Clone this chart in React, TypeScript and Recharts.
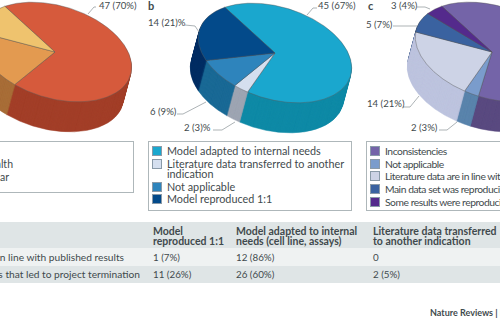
import React from 'react';
import { PieChart, Pie, Cell } from 'recharts';

// pie values, all three start at the same angle and run clockwise
const areaNames = ['Oncology', "Women's health", 'Cardiovascular'];
const areaValues = [47, 12, 8];
const areaTop = ['#D65A3C', '#E39A50', '#EFC36E'];
const areaSide = ['#A33F29', '#A86E38', '#B8924E'];

const modelNames = ['Model adapted to internal needs', 'Literature data transferred to another', 'Not applicable', 'Model reproduced 1:1'];
const modelValues = [45, 2, 6, 14];
const modelTop = ['#1AA7CE', '#D5DFEF', '#2E84BC', '#034A8A'];
const modelSide = ['#0F8AA6', '#9EA5B3', '#1A6A96', '#012E64'];

const resultNames = ['Inconsistencies', 'Not applicable', 'Literature data are in line with main data set', 'Main data set was reproducible', 'Some results were reproducible'];
const resultValues = [43, 2, 14, 5, 3];
const resultTop = ['#7464A8', '#7A9CCC', '#CDD3E6', '#3A62A0', '#542A8C'];
const resultSide = ['#5A4A80', '#5A84AC', '#BDC4DF', '#2A4A80', '#3E1E6C'];

const tableHead = [['Model', 'reproduced 1:1'], ['Model adapted to internal', 'needs (cell line, assays)'], ['Literature data transferred', 'to another indication']];
const rowNames = ['Data are in line with published results', 'Inconsistencies that led to project termination'];
const rowValues = [['1 (7%)', '12 (86%)', '0'], ['11 (26%)', '26 (60%)', '2 (5%)']];

const FONT = 'Lato, "Noto Sans", sans-serif';
const INK = '#3f4a4d';
const SIDE = 280;
const MID = SIDE / 2;
const DEPTH = 30;
const LAYERS = Array.from({ length: DEPTH }, (_, i) => DEPTH - i);
const COLS = [153, 236, 373];

function Pie3D({ x, y, values, top, side }: { x: number; y: number; values: number[]; top: string[]; side: string[] }) {
  const table = values.map((value, i) => ({ name: String(i), value }));
  return (
    <div style={{ position: 'absolute', left: x - MID, top: y - MID, width: SIDE, height: SIDE, transform: 'rotate(17deg) scaleY(0.585)', transformOrigin: '50% 50%' }}>
      <PieChart width={SIDE} height={SIDE} margin={{ top: 0, right: 0, bottom: 0, left: 0 }}>
        {LAYERS.map((d) => (
          <Pie
            key={d}
            data={table}
            dataKey="value"
            cx={MID + (d * 1.1) / DEPTH}
            cy={MID + (d * 53) / DEPTH}
            outerRadius={79}
            startAngle={141}
            endAngle={-219}
            isAnimationActive={false}
            label={false}
            labelLine={false}
          >
            {side.map((c) => (
              <Cell key={c} fill={c} stroke={c} strokeWidth={0.6} />
            ))}
          </Pie>
        ))}
        <Pie
          data={table}
          dataKey="value"
          cx={MID}
          cy={MID}
          outerRadius={79}
          startAngle={141}
          endAngle={-219}
          isAnimationActive={false}
          label={false}
          labelLine={false}
        >
          {top.map((c) => (
            <Cell key={c} fill={c} stroke="#5a5a5a" strokeWidth={0.5} />
          ))}
        </Pie>
      </PieChart>
    </div>
  );
}

function Txt({ x, y, children, bold, size = 9.6, right, spacing = 0 }: { x: number; y: number; children: React.ReactNode; bold?: boolean; size?: number; right?: boolean; spacing?: number }) {
  const pos = right ? { right: 500 - x } : { left: x };
  return (
    <div style={{ position: 'absolute', ...pos, top: y - 5, height: 10, lineHeight: '10px', fontSize: size, fontWeight: bold ? 700 : 400, letterSpacing: spacing, color: INK, whiteSpace: 'nowrap', fontFamily: FONT }}>
      {children}
    </div>
  );
}

function Swatch({ x, y, color }: { x: number; y: number; color: string }) {
  return <div style={{ position: 'absolute', left: x, top: y - 4, width: 8, height: 8, background: color, outline: '0.5px solid #8a9aa8' }} />;
}

function Frame({ x, y, w, h }: { x: number; y: number; w: number; h: number }) {
  return <div style={{ position: 'absolute', left: x, top: y, width: w, height: h, border: '1px solid #aeb7ba', boxSizing: 'border-box' }} />;
}

const leaders = [
  '88,14 94,7 96,7',
  '185,25 195,26 199,32',
  '177,114 183,114 206,102',
  '213,130 222,130 235,122',
  '307,15 313,8 317,8',
  '417,7 425,7 430,9',
  '393,26 417,26',
  '403,107 410,107 419,96',
  '439,130 447,130 457,122',
];
const modelRows = [151, 163.5, 187, 199];
const resultRows = [151, 164, 176, 189, 202];

export default function App() {
  return (
    <div style={{ position: 'absolute', left: 0, top: 0, width: 500, height: 319, overflow: 'hidden', background: '#fff' }}>
      <Pie3D x={55} y={52} values={areaValues} top={areaTop} side={areaSide} />
      <Pie3D x={275} y={53} values={modelValues} top={modelTop} side={modelSide} />
      <Pie3D x={492} y={52} values={resultValues} top={resultTop} side={resultSide} />

      <svg width={500} height={319} style={{ position: 'absolute', left: 0, top: 0 }}>
        {leaders.map((p) => (
          <polyline key={p} points={p} fill="none" stroke="#8a9296" strokeWidth={0.7} />
        ))}
      </svg>

      <Txt x={148} y={6} bold size={11}>b</Txt>
      <Txt x={368} y={6} bold size={11}>c</Txt>
      <Txt x={99} y={6}>47 (70%)</Txt>
      <Txt x={148} y={23}>14 (21)%</Txt>
      <Txt x={150} y={112}>6 (9%)</Txt>
      <Txt x={184} y={128}>2 (3)%</Txt>
      <Txt x={318} y={6}>45 (67%)</Txt>
      <Txt x={391} y={6}>3 (4%)</Txt>
      <Txt x={366} y={25}>5 (7%)</Txt>
      <Txt x={367} y={104}>14 (21%)</Txt>
      <Txt x={411} y={128}>2 (3%)</Txt>

      <Frame x={-100} y={141} w={234} h={52} />
      <Txt x={13} y={164} right size={10.5}>{areaNames[1]}</Txt>
      <Txt x={9} y={177} right size={10.5}>{areaNames[2]}</Txt>

      <Frame x={148} y={141} w={204} h={70} />
      {modelNames.map((name, i) => (
        <React.Fragment key={name}>
          <Swatch x={153} y={modelRows[i]} color={modelTop[i]} />
          <Txt x={167} y={modelRows[i]} size={10.8}>{name}</Txt>
        </React.Fragment>
      ))}
      <Txt x={167} y={174} size={10.8}>indication</Txt>

      <Frame x={366} y={141} w={180} h={70} />
      {resultNames.map((name, i) => (
        <React.Fragment key={name}>
          <Swatch x={371} y={resultRows[i]} color={resultTop[i]} />
          <Txt x={385} y={resultRows[i]} size={10.3} spacing={-0.45}>{name}</Txt>
        </React.Fragment>
      ))}

      <div style={{ position: 'absolute', left: 0, top: 222, width: 500, height: 26, background: '#dfe5e6' }} />
      <div style={{ position: 'absolute', left: 0, top: 248, width: 500, height: 18, background: '#eff2f2' }} />
      <div style={{ position: 'absolute', left: 0, top: 266, width: 500, height: 17, background: '#dfe5e6' }} />

      {tableHead.map((lines, c) => (
        <React.Fragment key={lines[0]}>
          <Txt x={COLS[c]} y={230.5} bold size={10.5}>{lines[0]}</Txt>
          <Txt x={COLS[c]} y={241} bold size={10.5}>{lines[1]}</Txt>
        </React.Fragment>
      ))}
      {rowNames.map((name, r) => (
        <React.Fragment key={name}>
          <Txt x={[124, 140][r]} y={257 + r * 16.5} right size={10.2}>{name}</Txt>
          {rowValues[r].map((v, c) => (
            <Txt key={c} x={COLS[c]} y={257 + r * 16.5} size={9.8}>{v}</Txt>
          ))}
        </React.Fragment>
      ))}
      <Txt x={430} y={313} bold size={9}>Nature Reviews | Drug Discovery</Txt>
    </div>
  );
}
